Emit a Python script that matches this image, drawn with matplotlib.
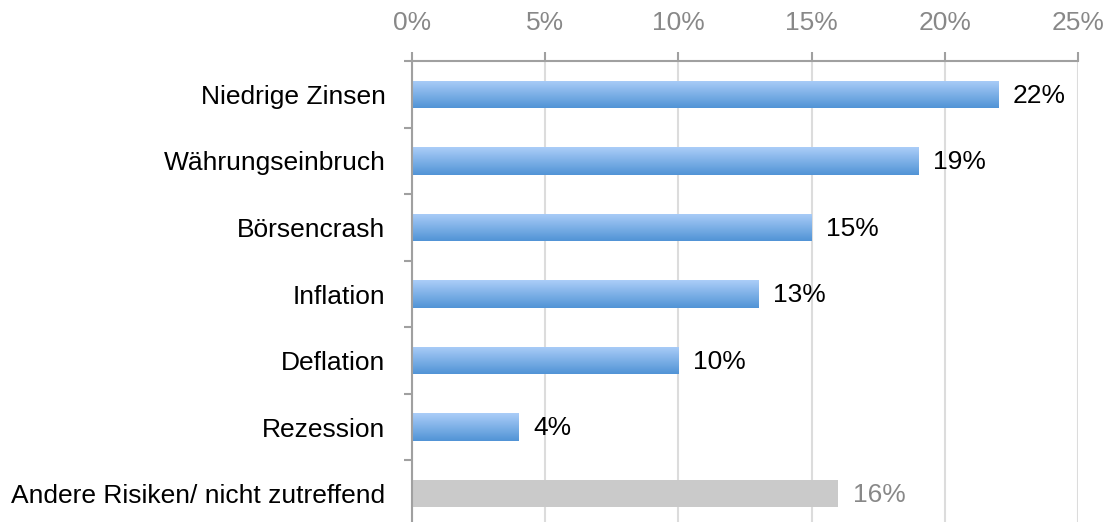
import numpy as np
import matplotlib.pyplot as plt
from matplotlib.ticker import MultipleLocator, FuncFormatter
from matplotlib.colors import LinearSegmentedColormap

plt.rcParams['font.family'] = ['Liberation Sans', 'DejaVu Sans']

categories = ['Niedrige Zinsen', 'Währungseinbruch', 'Börsencrash', 'Inflation',
              'Deflation', 'Rezession', 'Andere Risiken/ nicht zutreffend']
values = [22, 19, 15, 13, 10, 4, 16]
is_other = [False, False, False, False, False, False, True]

fs = 19

fig = plt.figure(figsize=(11.09, 5.22), dpi=100)
ax = fig.add_axes([412 / 1109, -5 / 522, 666 / 1109, 466 / 522])

n = len(categories)
ypos = np.arange(n)
bar_h = 0.41

# vertical gradient for the blue bars
grad = np.linspace(0, 1, 64).reshape(-1, 1)
blue_cmap = LinearSegmentedColormap.from_list('b', ['#abcdf8', '#5194d6'])

bars = ax.barh(ypos, values, height=bar_h, color='none', edgecolor='none', zorder=2)
for bar, v, other in zip(bars, values, is_other):
    y0 = bar.get_y()
    if other:
        bar.set_facecolor('#cacaca')
    else:
        im = ax.imshow(grad, cmap=blue_cmap, aspect='auto', zorder=2,
                       extent=[0, v, y0 + bar_h, y0], interpolation='bilinear')
        im.set_clip_path(bar)
    ax.text(v + 0.55, bar.get_y() + bar_h / 2 + 0.02, f'{v}%', va='center', ha='left',
            fontsize=fs, color='#888888' if other else 'black')

ax.set_xlim(0, 25)
ax.set_ylim(n - 0.5, -0.5)
ax.xaxis.set_major_locator(MultipleLocator(5))
ax.xaxis.set_major_formatter(FuncFormatter(lambda x, p: f'{int(x)}%'))
ax.xaxis.tick_top()
ax.tick_params(axis='x', colors='#a0a0a0', length=6.5, width=1.5, labelsize=fs,
               labelcolor='#888888', pad=12)
ax.grid(axis='x', color='#dcdcdc', linewidth=1.5, zorder=0)

ax.set_yticks(ypos)
ax.set_yticklabels(categories, fontsize=fs)
ax.set_yticks(np.arange(-0.5, n, 1), minor=True)
ax.tick_params(axis='y', which='major', length=0, pad=19)
ax.tick_params(axis='y', which='minor', length=6, width=1.5, color='#a0a0a0')

for side in ['right', 'bottom']:
    ax.spines[side].set_visible(False)
for side in ['left', 'top']:
    ax.spines[side].set_color('#a0a0a0')
    ax.spines[side].set_linewidth(1.5)

fig.savefig('out.png', dpi=100)
